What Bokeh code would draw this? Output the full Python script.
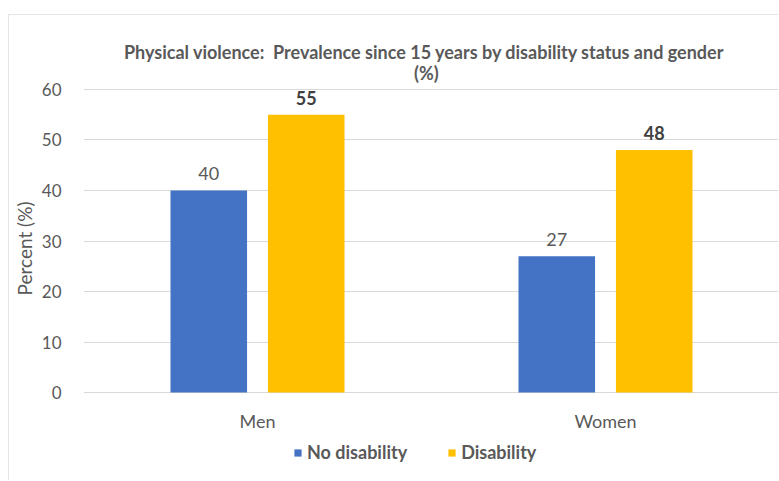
from bokeh.plotting import figure
from bokeh.models import ColumnDataSource, FactorRange, Range1d, Label, Legend, LegendItem, FixedTicker, LabelSet
from bokeh.transform import dodge
from bokeh.core.properties import value
from bokeh.embed import file_html
from bokeh.resources import INLINE

categories = ["Men", "Women"]
no_disability = [40, 27]
disability = [55, 48]
y_ticks = [0, 10, 20, 30, 40, 50, 60]
title_line1 = "Physical violence:\u00a0 Prevalence since 15 years by disability status and gender"
title_line2 = "(%)"

FONT = "Lato"
TXT = "#595959"
BLUE = "#4472C4"
GOLD = "#FFC000"

src = ColumnDataSource(dict(cat=categories, nd=no_disability, d=disability,
                            ndl=[str(v) for v in no_disability], dl=[str(v) for v in disability]))

# frame spans the whole height; title, category labels and legend sit inside it
p = figure(width=770, height=466, x_range=FactorRange(*categories, range_padding=0),
           y_range=Range1d(-17.62, 74.65), output_backend="svg", toolbar_location=None,
           min_border_left=70, min_border_right=0, min_border_top=0, min_border_bottom=0)
p.margin = (14, 0, 0, 8)
p.styles = {"border-left": "1px solid #E6E6E6", "border-top": "1px solid #E6E6E6"}
p.outline_line_color = None
p.background_fill_color = "white"
p.border_fill_color = "white"
p.xaxis.visible = False

r1 = p.vbar(x=dodge("cat", -0.14, range=p.x_range), top="nd", width=0.22, source=src,
            fill_color=BLUE, line_color=None)
r2 = p.vbar(x=dodge("cat", 0.14, range=p.x_range), top="d", width=0.22, source=src,
            fill_color=GOLD, line_color=None)

p.add_layout(LabelSet(x=dodge("cat", -0.14, range=p.x_range), y="nd", text="ndl", source=src,
                      text_align="center", text_baseline="bottom", y_offset=10,
                      text_font=value(FONT), text_font_size="18px", text_color=TXT))
p.add_layout(LabelSet(x=dodge("cat", 0.14, range=p.x_range), y="d", text="dl", source=src,
                      text_align="center", text_baseline="bottom", y_offset=10,
                      text_font=value(FONT), text_font_size="18px", text_color="#404040",
                      text_font_style="bold"))

# category labels under the zero line
p.text(x="cat", y=0, text="cat", source=src, y_offset=28, text_align="center",
       text_baseline="middle", text_font=value(FONT), text_font_size="18px", text_color=TXT)

p.yaxis.ticker = FixedTicker(ticks=y_ticks)
p.ygrid.ticker = FixedTicker(ticks=y_ticks)
p.ygrid.grid_line_color = "#D9D9D9"
p.xgrid.grid_line_color = None
p.yaxis.axis_line_color = None
p.yaxis.major_tick_line_color = None
p.yaxis.minor_tick_line_color = None
p.yaxis.major_label_text_font = FONT
p.yaxis.major_label_text_font_size = "17px"
p.yaxis.major_label_text_color = TXT
p.yaxis.major_label_standoff = 16
p.yaxis.axis_label = "Percent (%)"
p.yaxis.axis_label_text_font = FONT
p.yaxis.axis_label_text_font_size = "19px"
p.yaxis.axis_label_text_font_style = "normal"
p.yaxis.axis_label_text_color = TXT
p.yaxis.axis_label_standoff = 3

p.add_layout(Label(x=0.98, y=67.5, text=title_line1,
                   text_align="center", text_baseline="middle", text_font=FONT,
                   text_font_size="18px", text_font_style="bold", text_color=TXT))
p.add_layout(Label(x=0.985, y=63.3, text=title_line2,
                   text_align="center", text_baseline="middle", text_font=FONT,
                   text_font_size="18px", text_font_style="bold", text_color=TXT))

legend = Legend(items=[LegendItem(label="No disability", renderers=[r1]),
                       LegendItem(label="Disability", renderers=[r2])],
                orientation="horizontal", location=(210, 18), padding=0, margin=0, spacing=40,
                border_line_color=None, background_fill_alpha=0,
                glyph_width=9, glyph_height=9, label_standoff=5,
                label_text_font=FONT, label_text_font_size="18px", label_text_font_style="bold",
                label_text_color=TXT)
p.add_layout(legend, "center")

open("out.html", "w").write(file_html(p, INLINE))
